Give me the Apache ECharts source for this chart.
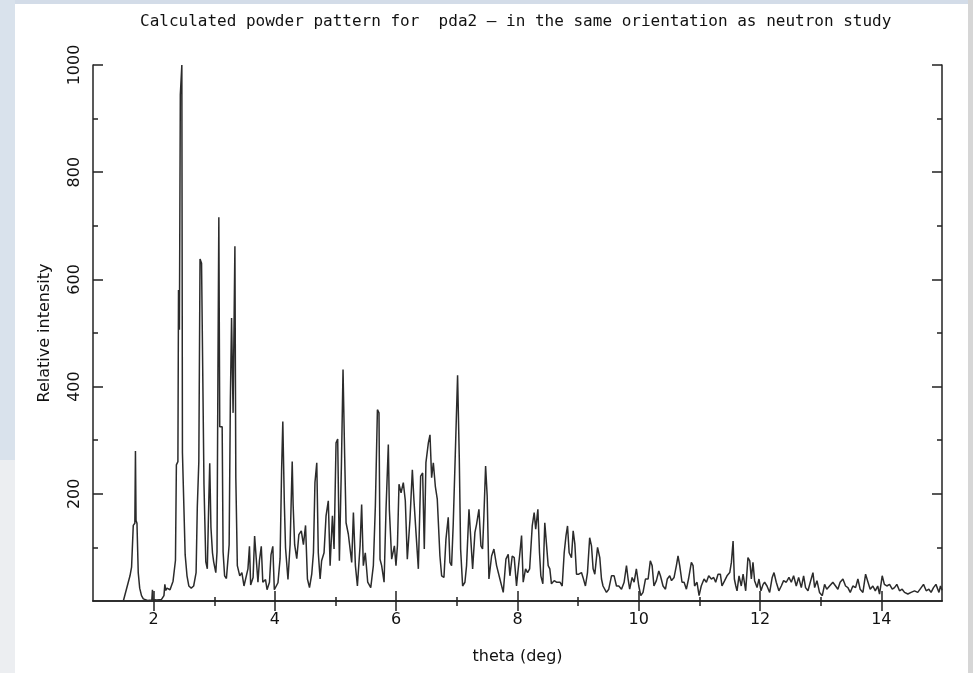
<!DOCTYPE html>
<html>
<head>
<meta charset="utf-8">
<script src="https://cdn.jsdelivr.net/npm/echarts@6/dist/echarts.min.js"></script>
<style>
  html, body { margin: 0; padding: 0; background: #fff; }
  #chart { width: 973px; height: 673px; }
</style>
</head>
<body>
<div id="chart"></div>
<script>
// powder pattern (theta in deg, relative intensity)
const theta = [
  1.50, 1.53, 1.61, 1.636, 1.664, 1.69, 1.70, 1.71, 1.725, 1.746, 1.77, 1.80, 1.83, 1.90, 1.97, 1.98, 1.99,
  2.05, 2.13, 2.17, 2.185, 2.20, 2.22, 2.27, 2.32, 2.36, 2.375, 2.40, 2.41, 2.425, 2.44, 2.455, 2.465, 2.475, 2.50,
  2.52, 2.55, 2.58, 2.62, 2.66, 2.70, 2.72, 2.745, 2.765, 2.79, 2.82, 2.83, 2.86, 2.885, 2.91, 2.925, 2.945, 2.97,
  2.99, 3.025, 3.045, 3.06, 3.075, 3.09, 3.13, 3.145, 3.17, 3.20, 3.22, 3.245, 3.265, 3.285, 3.31, 3.34, 3.355,
  3.38, 3.42, 3.455, 3.49, 3.52, 3.555, 3.58, 3.60, 3.64, 3.665, 3.69, 3.72, 3.745, 3.775, 3.80, 3.845, 3.87,
  3.91, 3.935, 3.965, 3.99, 4.05, 4.085, 4.11, 4.13, 4.155, 4.175, 4.215, 4.25, 4.285, 4.30, 4.325, 4.36, 4.395,
  4.435, 4.47, 4.505, 4.536, 4.57, 4.607, 4.635, 4.66, 4.69, 4.715, 4.745, 4.77, 4.81, 4.843, 4.88, 4.91, 4.948,
  4.975, 5.008, 5.035, 5.063, 5.096, 5.123, 5.15, 5.173, 5.21, 5.266, 5.294, 5.327, 5.36, 5.404, 5.43, 5.458,
  5.49, 5.53, 5.58, 5.623, 5.656, 5.69, 5.716, 5.733, 5.76, 5.80, 5.832, 5.87, 5.887, 5.925, 5.97, 5.996, 6.02,
  6.046, 6.08, 6.117, 6.15, 6.183, 6.227, 6.266, 6.293, 6.326, 6.365, 6.403, 6.436, 6.463, 6.49, 6.53, 6.557,
  6.584, 6.612, 6.645, 6.677, 6.721, 6.749, 6.787, 6.82, 6.858, 6.886, 6.913, 6.94, 6.974, 7.012, 7.04, 7.062,
  7.095, 7.133, 7.16, 7.20, 7.232, 7.26, 7.298, 7.325, 7.364, 7.397, 7.424, 7.446, 7.474, 7.50, 7.529, 7.573,
  7.611, 7.655, 7.71, 7.765, 7.809, 7.847, 7.875, 7.913, 7.946, 7.984, 8.00, 8.04, 8.067, 8.094, 8.133, 8.166,
  8.20, 8.243, 8.275, 8.30, 8.336, 8.363, 8.385, 8.418, 8.45, 8.478, 8.506, 8.533, 8.56, 8.605, 8.643, 8.70,
  8.737, 8.77, 8.80, 8.825, 8.852, 8.89, 8.918, 8.946, 8.973, 9.01, 9.055, 9.08, 9.12, 9.154, 9.19, 9.22, 9.247,
  9.275, 9.32, 9.357, 9.385, 9.41, 9.467, 9.505, 9.55, 9.593, 9.632, 9.67, 9.715, 9.758, 9.797, 9.824, 9.85,
  9.89, 9.923, 9.96, 10.00, 10.033, 10.07, 10.11, 10.154, 10.19, 10.22, 10.25, 10.29, 10.33, 10.357, 10.40,
  10.44, 10.47, 10.51, 10.54, 10.582, 10.62, 10.647, 10.675, 10.713, 10.747, 10.785, 10.82, 10.867, 10.895,
  10.92, 10.96, 10.994, 11.03, 11.076, 11.115, 11.153, 11.197, 11.235, 11.268, 11.307, 11.345, 11.372, 11.416,
  11.455, 11.50, 11.527, 11.555, 11.576, 11.60, 11.62, 11.653, 11.69, 11.72, 11.763, 11.80, 11.83, 11.856,
  11.883, 11.91, 11.95, 11.982, 12.015, 12.05, 12.075, 12.114, 12.158, 12.20, 12.23, 12.267, 12.31, 12.35,
  12.388, 12.432, 12.476, 12.515, 12.553, 12.597, 12.636, 12.68, 12.718, 12.75, 12.79, 12.828, 12.872, 12.90,
  12.938, 12.98, 13.026, 13.064, 13.10, 13.146, 13.20, 13.245, 13.283, 13.32, 13.366, 13.41, 13.448, 13.487,
  13.53, 13.575, 13.613, 13.65, 13.696, 13.74, 13.78, 13.816, 13.86, 13.90, 13.94, 13.97, 14.014, 14.05, 14.09,
  14.135, 14.18, 14.217, 14.255, 14.30, 14.343, 14.382, 14.437, 14.49, 14.547, 14.60, 14.657, 14.695, 14.74,
  14.783, 14.82, 14.86, 14.90, 14.95, 14.975, 15.00
]
const intensity = [
  0, 3, 47, 63, 141, 145, 280, 150, 145, 53, 24, 10, 4, 1, 2, 21, 3,
  2, 3, 10, 31, 20, 24, 21, 37, 76, 254, 260, 580, 506, 945, 945, 1000, 276, 276,
  86, 47, 28, 24, 28, 53, 176, 260, 638, 630, 632, 218, 73, 60, 189, 257, 137, 90,
  73, 53, 92, 422, 716, 325, 325, 92, 47, 42, 40, 105, 373, 528, 351, 662, 231,
  66, 47, 53, 28, 28, 60, 102, 30, 44, 121, 124, 35, 76, 102, 35, 40, 21,
  35, 86, 102, 21, 34, 79, 244, 335, 183, 99, 40, 105, 260, 180, 105, 79, 124,
  131, 105, 141, 41, 25, 50, 90, 221, 258, 90, 41, 75, 90, 159, 187, 66, 159,
  97, 295, 302, 75, 252, 432, 270, 146, 125, 72, 165, 66, 28, 103, 180, 66,
  90, 35, 25, 66, 177, 357, 351, 78, 66, 35, 171, 292, 171, 78, 103, 66, 103,
  218, 202, 221, 187, 78, 152, 245, 187, 128, 60, 233, 239, 97, 258, 295, 310,
  230, 258, 214, 190, 84, 47, 44, 115, 156, 72, 66, 143, 273, 421, 267, 97,
  28, 35, 66, 171, 174, 60, 128, 143, 171, 103, 97, 159, 252, 196, 41, 84,
  97, 66, 41, 16, 78, 87, 47, 84, 81, 28, 47, 90, 122, 35, 60, 53,
  60, 140, 165, 134, 171, 90, 47, 32, 146, 146, 66, 60, 32, 38, 35, 35,
  28, 90, 122, 140, 90, 81, 131, 106, 50, 50, 53, 44, 28, 53, 118, 103, 60,
  50, 100, 81, 41, 28, 16, 22, 47, 47, 28, 28, 22, 35, 66, 41, 22,
  44, 35, 60, 28, 10, 16, 41, 41, 75, 66, 28, 38, 56, 47, 28,
  22, 41, 47, 38, 44, 66, 84, 66, 35, 35, 22, 41, 72, 66,
  28, 35, 10, 28, 41, 35, 47, 41, 44, 35, 50, 50, 28, 38,
  47, 53, 72, 112, 41, 28, 19, 47, 28, 50, 19, 81, 75, 41,
  72, 38, 25, 41, 19, 31, 35, 28, 16, 44, 53, 35, 19, 28,
  38, 35, 44, 35, 47, 28, 44, 25, 47, 25, 19, 35, 53, 25,
  38, 16, 10, 31, 22, 28, 35, 28, 22, 35, 41, 28, 25, 16,
  28, 25, 41, 22, 16, 50, 35, 22, 28, 19, 28, 13, 47, 31, 28,
  31, 22, 25, 31, 19, 22, 16, 13, 16, 19, 16, 25, 31, 19,
  22, 16, 25, 31, 16, 28, 20
]
const xMajorTicks = [2, 4, 6, 8, 10, 12, 14]
const xMinorTicks = [3, 5, 7, 9, 11, 13]
const yMajorTicks = [200, 400, 600, 800, 1000]
const yMinorTicks = [100, 300, 500, 700, 900]

const chart = echarts.init(document.getElementById('chart'))
const ink = '#111'
const frame = { show: true, lineStyle: { color: '#222', width: 1.5 } }
const labelFont = { color: ink, fontSize: 16, fontFamily: 'DejaVu Sans' }

const xAxisBase = { type: 'value', min: 1, max: 15, splitLine: { show: false } }
const yAxisBase = { type: 'value', min: 0, max: 1000, splitLine: { show: false } }
const tick = (values, len) => ({
  show: true, inside: true, length: len, customValues: values,
  lineStyle: { color: '#222', width: 1.5 }
})

const option = {
  backgroundColor: '#fff',
  animation: false,
  title: {
    text: 'Calculated powder pattern for  pda2 \u2014 in the same orientation as neutron study',
    left: 140,
    top: 14,
    padding: 0,
    textStyle: { color: ink, fontSize: 16, fontWeight: 'normal', fontFamily: 'DejaVu Sans Mono' }
  },
  graphic: [
    { type: 'rect', shape: { x: 0, y: 0, width: 973, height: 4 }, style: { fill: '#d3dce8' }, silent: true },
    { type: 'rect', shape: { x: 0, y: 0, width: 15, height: 460 }, style: { fill: '#d9e2ec' }, silent: true },
    { type: 'rect', shape: { x: 0, y: 460, width: 15, height: 213 }, style: { fill: '#eceef1' }, silent: true },
    { type: 'rect', shape: { x: 968, y: 0, width: 5, height: 673 }, style: { fill: '#d6d6d6' }, silent: true }
  ],
  grid: { left: 93, right: 31, top: 65, bottom: 72, containLabel: false },
  xAxis: [
    Object.assign({}, xAxisBase, {
      position: 'bottom',
      axisLine: frame,
      axisTick: tick(xMajorTicks, 10),
      axisLabel: Object.assign({ customValues: xMajorTicks, margin: 11 }, labelFont),
      name: 'theta (deg)',
      nameLocation: 'middle',
      nameGap: 48,
      nameTextStyle: { color: ink, fontSize: 16, fontFamily: 'DejaVu Sans' }
    }),
    Object.assign({}, xAxisBase, {
      position: 'bottom',
      axisLine: { show: false },
      axisTick: tick(xMinorTicks, 4),
      axisLabel: { show: false }
    }),
    Object.assign({}, xAxisBase, {
      position: 'top',
      axisLine: frame,
      axisTick: tick(xMajorTicks, 10),
      axisLabel: { show: false }
    }),
    Object.assign({}, xAxisBase, {
      position: 'top',
      axisLine: { show: false },
      axisTick: tick(xMinorTicks, 5),
      axisLabel: { show: false }
    })
  ],
  yAxis: [
    Object.assign({}, yAxisBase, {
      position: 'left',
      axisLine: frame,
      axisTick: tick(yMajorTicks, 10),
      axisLabel: Object.assign({
        customValues: yMajorTicks, rotate: 90, margin: 10,
        formatter: v => String(v)
      }, labelFont),
      name: 'Relative intensity',
      nameLocation: 'middle',
      nameGap: 40,
      nameTextStyle: { color: ink, fontSize: 16, fontFamily: 'DejaVu Sans' }
    }),
    Object.assign({}, yAxisBase, {
      position: 'left',
      axisLine: { show: false },
      axisTick: tick(yMinorTicks, 5),
      axisLabel: { show: false }
    }),
    Object.assign({}, yAxisBase, {
      position: 'right',
      axisLine: frame,
      axisTick: tick(yMajorTicks, 10),
      axisLabel: { show: false }
    }),
    Object.assign({}, yAxisBase, {
      position: 'right',
      axisLine: { show: false },
      axisTick: tick(yMinorTicks, 5),
      axisLabel: { show: false }
    })
  ],
  series: [
    {
      type: 'line',
      xAxisIndex: 0,
      yAxisIndex: 0,
      data: theta.map((t, i) => [t, intensity[i]]),
      showSymbol: false,
      symbol: 'none',
      clip: true,
      lineStyle: { color: '#2b2b2b', width: 1.5 }
    }
  ]
}

option && chart.setOption(option)
</script>
</body>
</html>
